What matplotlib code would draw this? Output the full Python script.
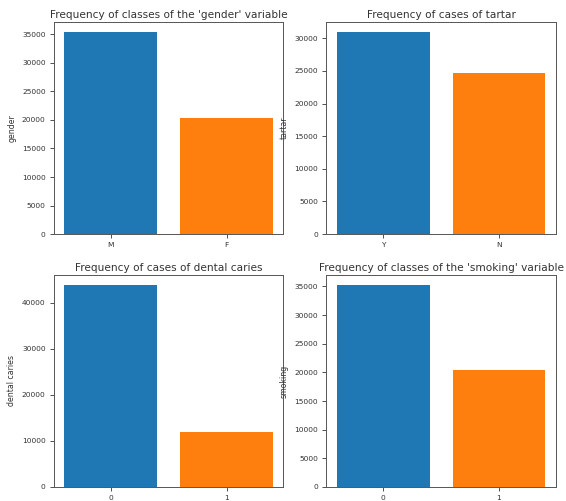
import matplotlib
matplotlib.use('agg')
import matplotlib.pyplot as plt

# class counts for each categorical column
gender_labels = ['M', 'F']
gender_counts = [35401, 20291]

tartar_labels = ['Y', 'N']
tartar_counts = [30940, 24752]

caries_labels = ['0', '1']
caries_counts = [43848, 11844]

smoking_labels = ['0', '1']
smoking_counts = [35237, 20455]

panels = [
    (gender_labels, gender_counts, "Frequency of classes of the 'gender' variable", 'gender'),
    (tartar_labels, tartar_counts, "Frequency of cases of tartar", 'tartar'),
    (caries_labels, caries_counts, "Frequency of cases of dental caries", 'dental caries'),
    (smoking_labels, smoking_counts, "Frequency of classes of the 'smoking' variable", 'smoking'),
]

plt.rcParams['text.color'] = '#333333'
plt.rcParams['xtick.color'] = '#333333'
plt.rcParams['ytick.color'] = '#333333'

fig, axes = plt.subplots(2, 2, figsize=(5.66, 5.01), dpi=100)
plt.subplots_adjust(left=0.0954, right=0.982, top=0.956, bottom=0.028,
                    wspace=0.188, hspace=0.193)

for ax, (labels, counts, title, name) in zip(axes.flat, panels):
    ax.bar(labels, counts, color=['C0', 'C1'])
    ax.set_title(title, fontsize=7.6, pad=3)
    ax.set_ylabel(name, fontsize=5.6, labelpad=4, color='#333333')
    ax.tick_params(labelsize=5.4, length=3, width=0.6, pad=3)
    for spine in ax.spines.values():
        spine.set_linewidth(0.7)
        spine.set_color('#555555')

plt.savefig('out.png', dpi=100)
